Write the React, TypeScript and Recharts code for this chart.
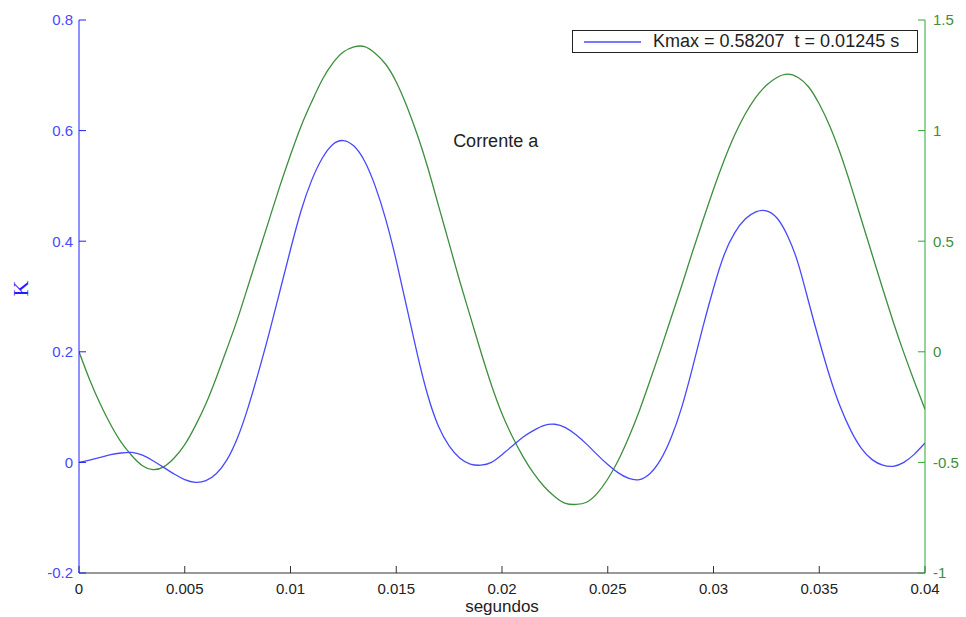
import React from 'react';
import { LineChart, Line, XAxis, YAxis, ReferenceDot } from 'recharts';

// time samples (s), every 0.5 ms
const time = [
  0, 0.0005, 0.001, 0.0015, 0.002, 0.0025, 0.003, 0.0035, 0.004, 0.0045,
  0.005, 0.0055, 0.006, 0.0065, 0.007, 0.0075, 0.008, 0.0085, 0.009, 0.0095,
  0.01, 0.0105, 0.011, 0.0115, 0.012, 0.0125, 0.013, 0.0135, 0.014, 0.0145,
  0.015, 0.0155, 0.016, 0.0165, 0.017, 0.0175, 0.018, 0.0185, 0.019, 0.0195,
  0.02, 0.0205, 0.021, 0.0215, 0.022, 0.0225, 0.023, 0.0235, 0.024, 0.0245,
  0.025, 0.0255, 0.026, 0.0265, 0.027, 0.0275, 0.028, 0.0285, 0.029, 0.0295,
  0.03, 0.0305, 0.031, 0.0315, 0.032, 0.0325, 0.033, 0.0335, 0.034, 0.0345,
  0.035, 0.0355, 0.036, 0.0365, 0.037, 0.0375, 0.038, 0.0385, 0.039, 0.0395,
  0.04,
];

// K (left axis)
const kValues = [
  0, 0.004, 0.009, 0.014, 0.017, 0.018, 0.013, 0.003, -0.009, -0.021,
  -0.031, -0.036, -0.033, -0.02, 0.005, 0.045, 0.1, 0.165, 0.235, 0.31,
  0.385, 0.455, 0.51, 0.55, 0.575, 0.582, 0.572, 0.545, 0.5, 0.44,
  0.365, 0.28, 0.195, 0.12, 0.065, 0.03, 0.008, -0.003, -0.005, 0.0,
  0.014, 0.03, 0.046, 0.058, 0.067, 0.069, 0.063, 0.05, 0.033, 0.014,
  -0.004, -0.019, -0.029, -0.031, -0.02, 0.005, 0.045, 0.1, 0.17, 0.245,
  0.315, 0.375, 0.415, 0.44, 0.453, 0.455, 0.442, 0.41, 0.36, 0.29,
  0.22, 0.155, 0.1, 0.057, 0.025, 0.005, -0.005, -0.007, 0.0, 0.015,
  0.035,
];

// phase-a current (right axis)
const currentValues = [
  0, -0.125, -0.235, -0.33, -0.41, -0.47, -0.515, -0.533, -0.52, -0.48,
  -0.42, -0.335, -0.235, -0.115, 0.015, 0.15, 0.3, 0.45, 0.6, 0.75,
  0.89, 1.02, 1.13, 1.23, 1.305, 1.355, 1.378, 1.38, 1.35, 1.3,
  1.22, 1.11, 0.98, 0.83, 0.66, 0.49, 0.32, 0.16, 0.0, -0.15,
  -0.28, -0.385, -0.475, -0.55, -0.61, -0.655, -0.685, -0.69, -0.68, -0.64,
  -0.575, -0.49, -0.385, -0.265, -0.13, 0.01, 0.155, 0.3, 0.45, 0.595,
  0.735, 0.865, 0.98, 1.075, 1.15, 1.205, 1.24, 1.255, 1.24, 1.197,
  1.12, 1.02, 0.895, 0.75, 0.595, 0.44, 0.285, 0.135, -0.005, -0.135,
  -0.26,
];

const xTicks = [0, 0.005, 0.01, 0.015, 0.02, 0.025, 0.03, 0.035, 0.04];
const xTickLabels = ['0', '0.005', '0.01', '0.015', '0.02', '0.025', '0.03', '0.035', '0.04'];
const kTicks = [-0.2, 0, 0.2, 0.4, 0.6, 0.8];
const kTickLabels = ['-0.2', '0', '0.2', '0.4', '0.6', '0.8'];
const iTicks = [-1, -0.5, 0, 0.5, 1, 1.5];
const iTickLabels = ['-1', '-0.5', '0', '0.5', '1', '1.5'];

const legendText = 'Kmax = 0.58207  t = 0.01245 s';
const annotation = 'Corrente a';
const xLabel = 'segundos';
const yLabel = 'K';

const data = time.map((t, i) => ({ t, k: kValues[i], cur: currentValues[i] }));

const FONT = '"Liberation Sans", Arial, Helvetica, sans-serif';
const BLUE = '#4848ff';
const GREEN = '#3d8f3d';

const LegendBox = () => (
  <div
    style={{
      position: 'absolute',
      top: 30,
      left: 572,
      border: '1px solid #222',
      background: '#fff',
      height: 23,
      width: 346,
      boxSizing: 'border-box',
      display: 'flex',
      alignItems: 'center',
      fontFamily: FONT,
      fontSize: 18,
      color: '#222',
    }}
  >
    <svg width={80} height={10} style={{ display: 'block' }}>
      <line x1={11} y1={5} x2={68} y2={5} stroke={BLUE} strokeWidth={1.3} />
    </svg>
    <span style={{ whiteSpace: 'pre' }}>{legendText}</span>
  </div>
);

export default function App() {
  return (
    <div style={{ position: 'absolute', left: 0, top: 0, width: 966, height: 617, background: '#fff' }}>
      <LineChart width={966} height={617} data={data} margin={{ top: 20, right: 0, left: 0, bottom: 0 }}>
        <XAxis
          xAxisId="b"
          dataKey="t"
          type="number"
          domain={[0, 0.04]}
          ticks={xTicks}
          tickFormatter={(v: number, i: number) => xTickLabels[i]}
          height={44}
          stroke="#333"
          tickSize={-7}
          tickMargin={17}
          tick={{ fill: '#222', fontSize: 15, fontFamily: FONT }}
          interval={0}
          label={{ value: xLabel, position: 'insideBottom', offset: 5, fill: '#222', fontSize: 17, fontFamily: FONT }}
          allowDataOverflow
        />
        <XAxis
          xAxisId="top"
          orientation="top"
          dataKey="t"
          type="number"
          domain={[0, 0.04]}
          ticks={xTicks}
          height={0}
          stroke="#222"
          tickSize={-7}
          tick={false}
          allowDataOverflow
        />
        <YAxis
          yAxisId="left"
          type="number"
          domain={[-0.2, 0.8]}
          ticks={kTicks}
          tickFormatter={(v: number, i: number) => kTickLabels[i]}
          width={79}
          stroke="#2020ff"
          tickSize={-7}
          tickMargin={13}
          interval={0}
          tick={{ fill: BLUE, fontSize: 15, fontFamily: FONT }}
          label={{ value: yLabel, angle: -90, position: 'insideLeft', offset: 20, fill: '#2020ff', fontSize: 22, fontFamily: '"Liberation Serif", "DejaVu Serif", serif' }}
          allowDataOverflow
        />
        <YAxis
          yAxisId="right"
          orientation="right"
          type="number"
          domain={[-1, 1.5]}
          ticks={iTicks}
          tickFormatter={(v: number, i: number) => iTickLabels[i]}
          width={41}
          stroke="#2ea82e"
          tickSize={-7}
          tickMargin={15}
          interval={0}
          tick={{ fill: GREEN, fontSize: 15, fontFamily: FONT }}
          allowDataOverflow
        />
        <Line
          xAxisId="b"
          yAxisId="right"
          dataKey="cur"
          type="natural"
          stroke={GREEN}
          strokeWidth={1.3}
          dot={false}
          isAnimationActive={false}
        />
        <Line
          xAxisId="b"
          yAxisId="left"
          dataKey="k"
          type="natural"
          stroke={BLUE}
          strokeWidth={1.3}
          dot={false}
          isAnimationActive={false}
        />
        <ReferenceDot
          xAxisId="b"
          yAxisId="left"
          x={0.0197}
          y={0.582}
          r={0}
          stroke="none"
          fill="none"
          label={{ value: annotation, position: 'center', fill: '#222', fontSize: 18, fontFamily: FONT }}
        />
      </LineChart>
      <LegendBox />
    </div>
  );
}
